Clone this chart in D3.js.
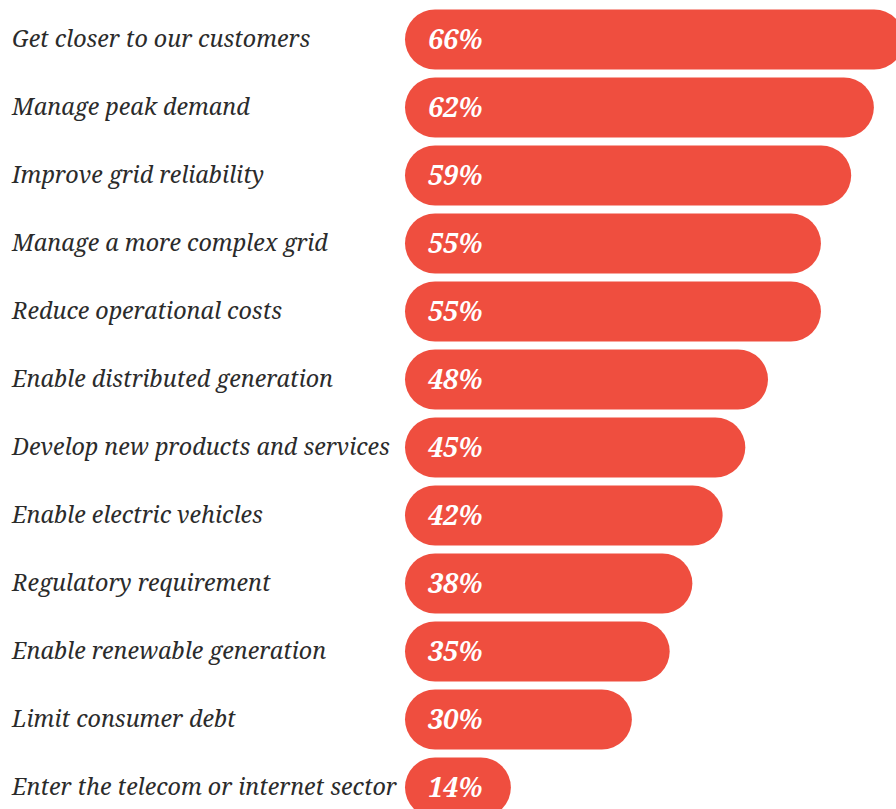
<!DOCTYPE html>
<html>
<head>
<meta charset="utf-8">
<script src="https://cdn.jsdelivr.net/npm/d3@7"></script>
<style>
  html, body { margin: 0; padding: 0; background: #fff; }
  svg { display: block; }
</style>
</head>
<body>
<svg id="chart" width="896" height="809"></svg>
<script>
// Reasons for investing, share of respondents (%)
const categories = [
  "Get closer to our customers",
  "Manage peak demand",
  "Improve grid reliability",
  "Manage a more complex grid",
  "Reduce operational costs",
  "Enable distributed generation",
  "Develop new products and services",
  "Enable electric vehicles",
  "Regulatory requirement",
  "Enable renewable generation",
  "Limit consumer debt",
  "Enter the telecom or internet sector"
];
const values = [66, 62, 59, 55, 55, 48, 45, 42, 38, 35, 30, 14];

const svg = d3.select("#chart");
const barLeft = 405;
const serif = "'Noto Serif', 'DejaVu Serif', serif";

const x = d3.scaleLinear().domain([0, 100]).range([barLeft, barLeft + 756.25]);
const y = d3.scaleBand()
  .domain(categories)
  .range([5.5, 5.5 + 68 * categories.length])
  .paddingInner(8 / 68)
  .paddingOuter(4 / 68);

const rows = svg.selectAll("g.row")
  .data(categories.map((c, i) => ({ c, v: values[i] })))
  .join("g")
  .attr("class", "row");

rows.append("rect")
  .attr("x", barLeft)
  .attr("y", d => y(d.c))
  .attr("width", d => x(d.v) - barLeft)
  .attr("height", y.bandwidth())
  .attr("rx", y.bandwidth() / 2)
  .attr("fill", "#ef4e3f");

rows.append("text")
  .attr("x", 12)
  .attr("y", d => y(d.c) + y.bandwidth() / 2)
  .attr("dy", "0.34em")
  .attr("font-family", serif)
  .attr("font-style", "italic")
  .attr("font-size", 23.3)
  .attr("fill", "#2b2b2b")
  .text(d => d.c);

rows.append("text")
  .attr("x", barLeft + 23)
  .attr("y", d => y(d.c) + y.bandwidth() / 2)
  .attr("dy", "0.35em")
  .attr("font-family", serif)
  .attr("font-style", "italic")
  .attr("font-weight", "bold")
  .attr("font-size", 27)
  .attr("fill", "#fff")
  .text(d => d.v + "%");
</script>
</body>
</html>
